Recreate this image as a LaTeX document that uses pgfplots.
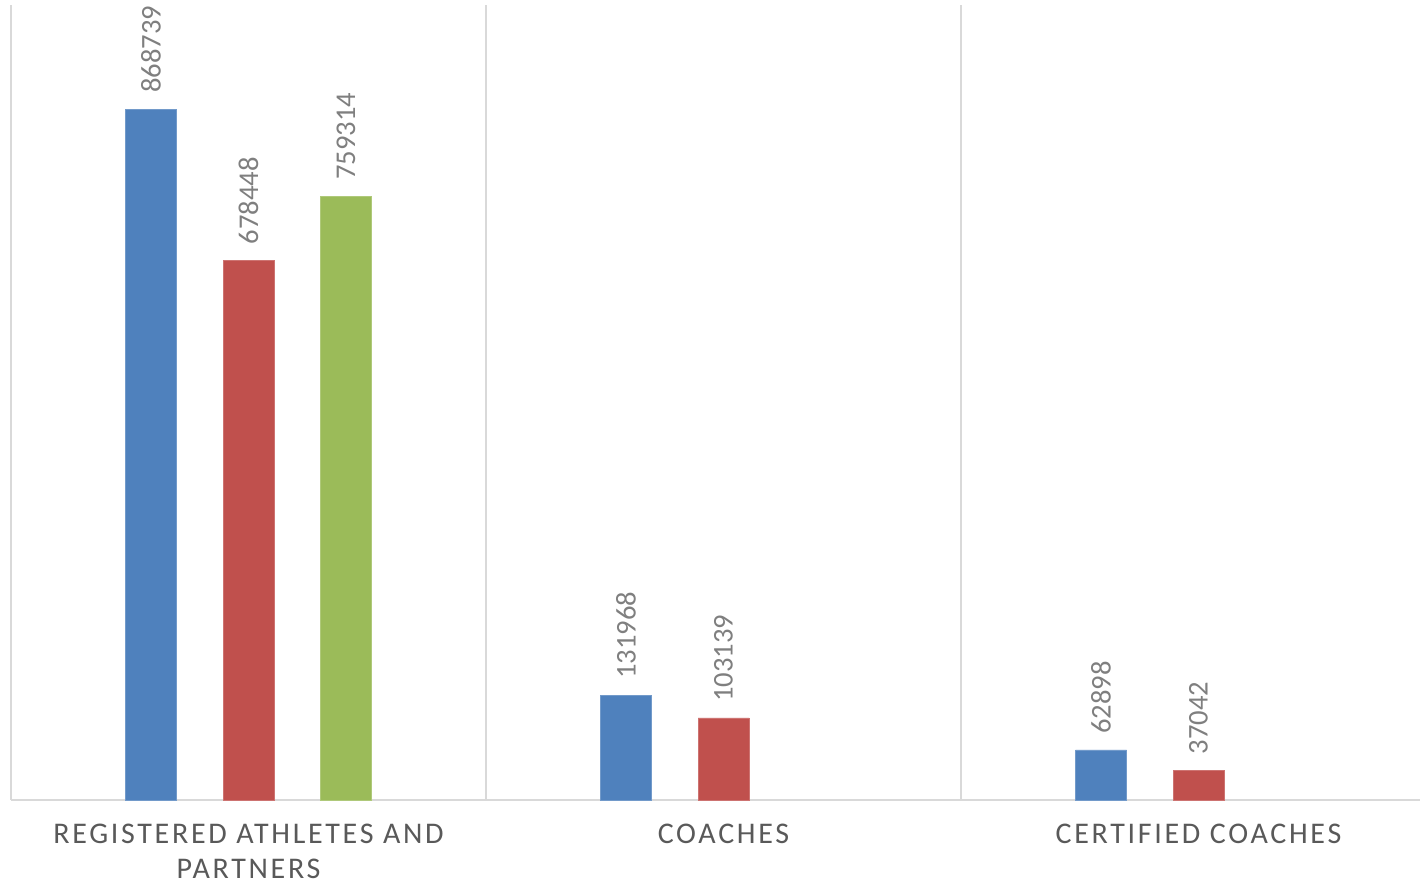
\documentclass[border=0pt]{standalone}
\usepackage{fontspec}
\setmainfont{Carlito}
\usepackage{pgfplots}
\pgfplotsset{compat=1.18}
\definecolor{cblue}{HTML}{4F81BD}
\definecolor{cred}{HTML}{C0504D}
\definecolor{cgreen}{HTML}{9BBB59}
\definecolor{gridc}{HTML}{D9D9D9}
\definecolor{labc}{HTML}{595959}
\definecolor{valc}{HTML}{7F7F7F}
\begin{document}
\begin{tikzpicture}
\begin{axis}[
  scale only axis,
  width=704.5pt, height=397.5pt,
  ybar=23.25pt, bar width=25.5pt,
  xmin=-0.5, xmax=2.4663, ymin=0, ymax=1000000,
  axis x line=bottom, axis y line=left,
  axis line style={draw=gridc, line width=0.8pt, -},
  ytick=\empty,
  xtick={0,1,2},
  xticklabels={{REGISTERED ATHLETES AND\\PARTNERS},{COACHES},{CERTIFIED COACHES}},
  xticklabel style={align=center, font=\fontsize{15}{17.3}\selectfont\addfontfeature{LetterSpace=9}, text=labc, inner ysep=0pt, yshift=-12pt},
  major tick length=0pt,
  extra x ticks={0.5,1.5},
  extra x tick labels={},
  extra x tick style={grid=major, major grid style={draw=gridc, line width=0.8pt}},
  point meta=explicit symbolic,
  nodes near coords,
  every node near coord/.append style={rotate=90, anchor=west, inner xsep=8pt, inner ysep=0pt, font=\fontsize{14.3}{16}\selectfont, text=valc},
  clip=false,
]
\addplot[fill=cblue, draw=cblue!80!white] coordinates {(0,868739) [868739] (1,131968) [131968] (2,62898) [62898]};
\addplot[fill=cred, draw=cred!80!white] coordinates {(0,678448) [678448] (1,103139) [103139] (2,37042) [37042]};
\addplot[fill=cgreen, draw=cgreen!80!white] coordinates {(0,759314) [759314]};
\end{axis}
\pgfresetboundingbox
\path ([shift={(-5.5pt,-41.5pt)}]current axis.south west) rectangle ([shift={(0pt,2.5pt)}]current axis.north east);
\end{tikzpicture}
\end{document}
